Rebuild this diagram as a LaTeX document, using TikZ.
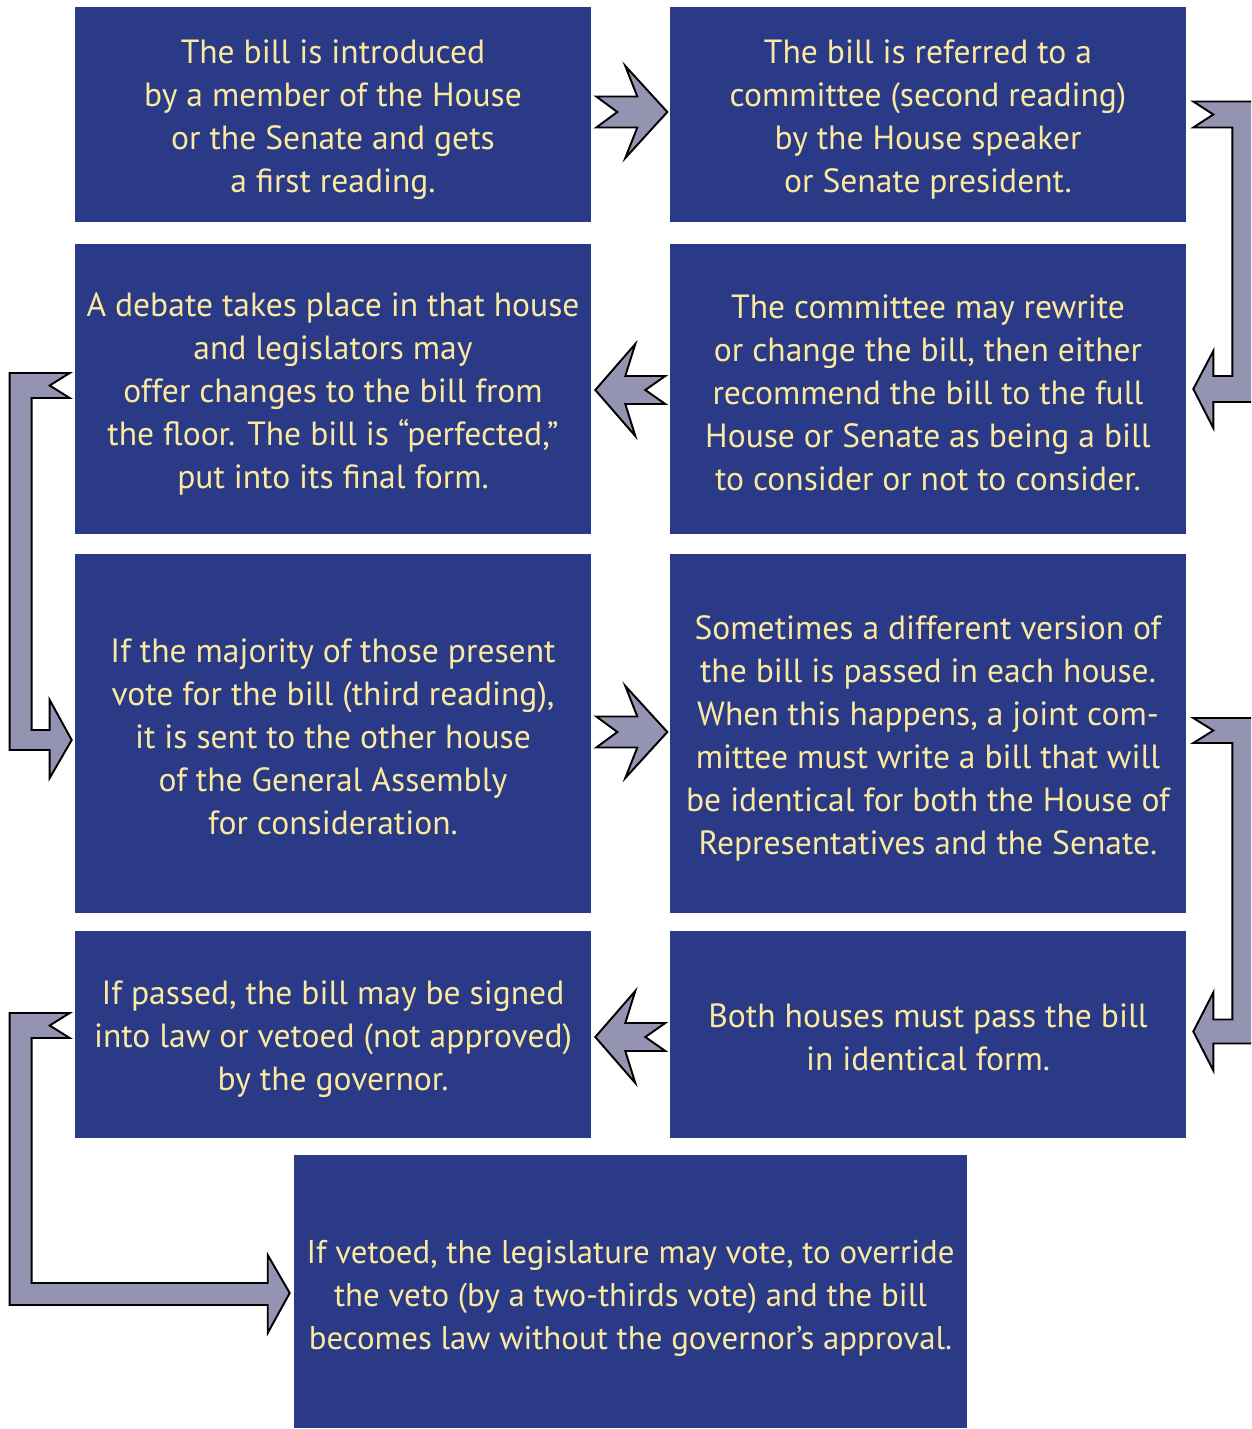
\documentclass[tikz,border=0pt]{standalone}
\usepackage{fontspec}
\setmainfont{PT Sans}
\usetikzlibrary{calc}

\definecolor{boxblue}{RGB}{42,58,135}
\definecolor{cream}{RGB}{250,233,160}
\definecolor{arrowgrey}{RGB}{149,147,178}

% a little extra room above the first line of a box
\newcommand{\topgap}[1][19pt]{\rule{0pt}{#1}}

\begin{document}
\begin{tikzpicture}[x = 0.02cm, y = -0.02cm,
	every node/.style = {rectangle, fill = boxblue, text = cream, align = center, inner sep = 0pt, minimum width = 10.32cm},
	font = \fontsize{19.1}{24.5}\selectfont,
	blockarrow/.style = {fill = arrowgrey, draw = black, line width = 1.1pt, line join = miter}]

	\clip (0, 0) rectangle (1251, 1429);
	\fill [white] (0, 0) rectangle (1251, 1429);

	\node [minimum height = 4.3cm] (intro) at (333, 114.5) {\topgap The bill is introduced\\ by a member of the House\\ or the Senate and gets\\ a first reading.};
	\node [minimum height = 4.3cm] (refer) at (928, 114.5) {\topgap The bill is referred to a\\ committee (second reading)\\ by the House speaker\\ or Senate president.};
	\node [minimum height = 5.8cm] (debate) at (333, 389) {\topgap A debate takes place in that house\\ and legislators may\\ offer changes to the bill from\\ the floor. The bill is “perfected,”\\ put into its final form.};
	\node [minimum height = 5.8cm] (committee) at (928, 389) {\topgap[17.5pt]The committee may rewrite\\ or change the bill, then either\\ recommend the bill to the full\\ House or Senate as being a bill\\ to consider or not to consider.};
	\node [minimum height = 7.18cm] (vote) at (333, 733.5) {\topgap[17.5pt]If the majority of those present\\ vote for the bill (third reading),\\ it is sent to the other house\\ of the General Assembly\\ for consideration.};
	\node [minimum height = 7.18cm] (version) at (928, 733.5) {\topgap Sometimes a different version of\\ the bill is passed in each house.\\ When this happens, a joint com-\\ mittee must write a bill that will\\ be identical for both the House of\\ Representatives and the Senate.};
	\node [minimum height = 4.14cm] (governor) at (333, 1034.5) {\topgap If passed, the bill may be signed\\ into law or vetoed (not approved)\\ by the governor.};
	\node [minimum height = 4.14cm] (identical) at (928, 1034.5) {\topgap[16.5pt]Both houses must pass the bill\\ in identical form.};
	\node [minimum height = 5.46cm, minimum width = 13.46cm, font = \fontsize{18.7}{24.5}\selectfont] (override) at (630.5, 1291.5) {\topgap[21pt]If vetoed, the legislature may vote, to override\\ the veto (by a two-thirds vote) and the bill\\ becomes law without the governor’s approval.};

	% short arrows between the columns
	\draw [blockarrow] ($(intro.east) + (5, -2.5)$) ++(0, -15.5) -- ++(41, 0) -- ++(-12, -30.5) -- ++(42, 46) -- ++(-42, 46) -- ++(12, -30.5) -- ++(-41, 0) -- ++(21, -15.5) -- cycle;
	\draw [blockarrow] ($(debate.east) + (4, 1)$) -- ++(40, -46) -- ++(-10, 32) -- ++(40, 0) -- ++(-20, 14) -- ++(20, 14) -- ++(-40, 0) -- ++(10, 32) -- cycle;
	\draw [blockarrow] ($(vote.east) + (5, -1.5)$) ++(0, -15.5) -- ++(41, 0) -- ++(-12, -30.5) -- ++(42, 46) -- ++(-42, 46) -- ++(12, -30.5) -- ++(-41, 0) -- ++(21, -15.5) -- cycle;
	\draw [blockarrow] ($(governor.east) + (4, 2.5)$) -- ++(40, -46) -- ++(-10, 32) -- ++(40, 0) -- ++(-20, 14) -- ++(20, 14) -- ++(-40, 0) -- ++(10, 32) -- cycle;

	% bent arrows down the right side
	\draw [blockarrow] ($(refer.east) + (7, -13)$) -| ($(committee.east) + (68, 13)$) -- ++(-41, 0) -- ++(0, 26) -- ($(committee.east) + (7, 0)$) -- ++(20, -38) -- ++(0, 25) -- ++(19, 0) |- ($(refer.east) + (7, 13)$) -- ++(20, -13) -- cycle;
	\draw [blockarrow] ($(version.east) + (7, -15.5)$) -| ($(identical.east) + (68, 9)$) -- ++(-41, 0) -- ++(0, 27) -- ($(identical.east) + (7, -3)$) -- ++(20, -39) -- ++(0, 27) -- ++(19, 0) |- ($(version.east) + (7, 9.5)$) -- ++(20, -12.5) -- cycle;

	% bent arrows down the left side
	\draw [blockarrow] ($(debate.west) + (-5, -16)$) -| ($(vote.west) + (-65, 16.5)$) -- ++(40, 0) -- ++(0, 28) -- ($(vote.west) + (-3, 6.5)$) -- ++(-22, -40) -- ++(0, 30) -- ++(-18, 0) |- ($(debate.west) + (-5, 9)$) -- ++(-20, -12.5) -- cycle;
	\draw [blockarrow] ($(governor.west) + (-5, -21.5)$) -| ($(override.west) + (-284, 13.5)$) -- ++(258, 0) -- ++(0, 28) -- ($(override.west) + (-4, 1.5)$) -- ++(-22, -38) -- ++(0, 28) -- ++(-236, 0) |- ($(governor.west) + (-5, 3.5)$) -- ++(-20, -12.5) -- cycle;

\end{tikzpicture}
\end{document}
